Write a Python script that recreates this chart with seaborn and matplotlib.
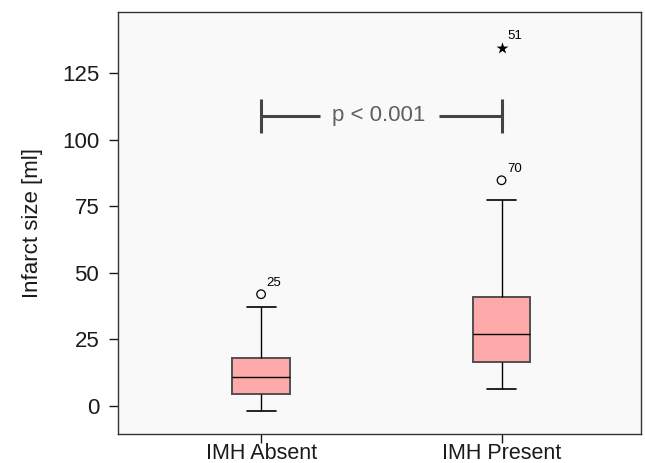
import matplotlib
matplotlib.use("Agg")
import matplotlib.pyplot as plt
import seaborn as sns
import pandas as pd

# ---- data ----
groups = ["IMH Absent", "IMH Present"]
whisker_low = [-1.9, 6.5]
q1 = [4.5, 16.5]
median = [11.0, 27.2]
q3 = [18.2, 41.0]
whisker_high = [37.3, 77.5]

# outliers: (group index, value, label, marker)
outlier_group = [0, 1, 1]
outlier_value = [42.0, 84.8, 134.5]
outlier_label = ["25", "70", "51"]
outlier_marker = ["o", "o", "*"]

yticks = [0, 25, 50, 75, 100, 125]
p_text = "p < 0.001"
bracket_y = 109

# ---- build tidy data for seaborn (five-number summaries) ----
rows = []
for g, lo, a, m, b, hi in zip(groups, whisker_low, q1, median, q3, whisker_high):
    for v in (lo, a, m, b, hi):
        rows.append({"group": g, "value": v})
df = pd.DataFrame(rows)

sns.set_style("white")
plt.rcParams["font.family"] = ["Liberation Sans", "DejaVu Sans"]
plt.rcParams["text.color"] = "#1a1a1a"
plt.rcParams["axes.labelcolor"] = "#1a1a1a"
plt.rcParams["xtick.color"] = "#1a1a1a"
plt.rcParams["ytick.color"] = "#1a1a1a"

fig = plt.figure(figsize=(6.45, 4.63), dpi=100)
ax = fig.add_axes([118 / 645, (463 - 434) / 463, (641 - 118) / 645, (434 - 12) / 463])
ax.set_facecolor("#f9f9f9")

sns.boxplot(
    data=df, x="group", y="value", order=groups, ax=ax,
    whis=(0, 100), width=0.24, showfliers=False,
    color="#ffaaaa", saturation=1,
    boxprops=dict(edgecolor="#505050", linewidth=1.4, facecolor="#ffaaaa"),
    medianprops=dict(color="black", linewidth=1.0),
    whiskerprops=dict(color="black", linewidth=1.0),
    capprops=dict(color="black", linewidth=1.2),
)

for gi, v, lab, mk in zip(outlier_group, outlier_value, outlier_label, outlier_marker):
    if mk == "o":
        ax.scatter([gi], [v], marker="o", s=38, facecolors="none", edgecolors="black", linewidths=0.9, zorder=5)
    else:
        ax.scatter([gi], [v], marker="*", s=80, color="black", linewidths=0, zorder=5)
    ax.annotate(lab, (gi, v), xytext=(4, 4), textcoords="offset points",
                fontsize=9.5, color="black", ha="left", va="bottom")

# significance bracket
bc = "#444444"
ax.plot([0, 0], [bracket_y - 6.5, bracket_y + 6.5], color=bc, lw=2.2, solid_capstyle="butt")
ax.plot([1, 1], [bracket_y - 6.5, bracket_y + 6.5], color=bc, lw=2.2, solid_capstyle="butt")
ax.plot([0, 0.245], [bracket_y, bracket_y], color=bc, lw=2.2, solid_capstyle="butt")
ax.plot([0.74, 1], [bracket_y, bracket_y], color=bc, lw=2.2, solid_capstyle="butt")
ax.text(0.49, bracket_y, p_text, ha="center", va="center", fontsize=16, color="#606060")

ax.set_xlim(-0.595, 1.58)
ax.set_ylim(-10.5, 148)
ax.set_yticks(yticks)
ax.set_xlabel("")
ax.set_ylabel("Infarct size [ml]", fontsize=16, labelpad=14)
ax.tick_params(axis="x", labelsize=15.5, length=6.5, width=1, direction="out", bottom=True, pad=0)
ax.tick_params(axis="y", labelsize=16, length=6.5, width=1, direction="out", left=True, pad=7)
for s in ax.spines.values():
    s.set_visible(True)
    s.set_color("#333333")
    s.set_linewidth(1.0)

fig.savefig("out.png", dpi=100, facecolor="white")
